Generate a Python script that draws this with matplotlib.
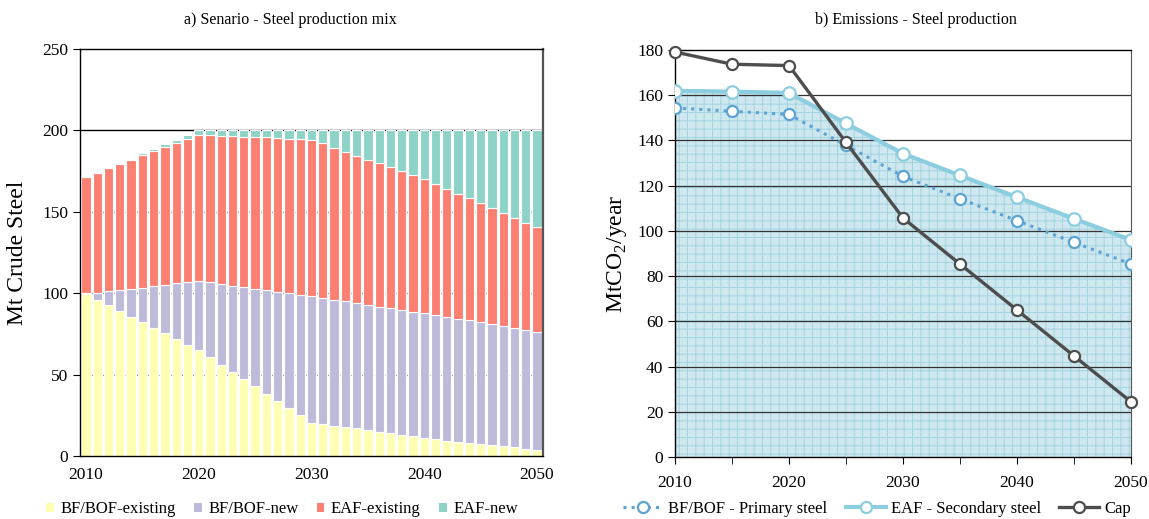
import matplotlib.pyplot as plt
import numpy as np
from matplotlib.lines import Line2D
from matplotlib.patches import Patch

plt.rcParams['font.family'] = ['Liberation Serif', 'DejaVu Serif']
plt.rcParams['mathtext.fontset'] = 'custom'
plt.rcParams['mathtext.rm'] = 'Liberation Serif'
plt.rcParams['hatch.linewidth'] = 0.7

# a) steel production mix, Mt crude steel
years = np.arange(2010, 2051)
bof_existing = [99.5, 95.8, 92.5, 88.8, 85.6, 82.1, 78.6, 75.3, 71.9, 68.4,
                64.9, 60.6, 56.1, 51.4, 47.3, 42.8, 38.1, 33.8, 29.5, 25.0,
                20.2, 19.5, 18.6, 18.0, 16.9, 15.8, 14.9, 14.1, 13.1, 12.1,
                11.3, 10.2, 9.4, 8.6, 8.0, 7.4, 6.8, 5.9, 5.3, 4.5, 3.7]
bof_new = [0.5, 4.5, 8.6, 12.9, 17.0, 21.3, 25.6, 29.9, 34.1, 38.3,
           42.4, 46.1, 49.7, 53.2, 56.3, 60.0, 63.6, 67.1, 70.4, 74.1,
           78.0, 77.4, 77.3, 77.1, 77.1, 76.7, 76.8, 76.6, 76.6, 76.5,
           76.5, 76.2, 76.0, 75.7, 75.3, 74.7, 74.1, 73.7, 73.1, 72.9, 72.5]
eaf_existing = [71.5, 73.7, 75.6, 77.6, 79.2, 81.2, 82.9, 84.4, 86.0, 88.0,
                89.8, 90.2, 90.9, 91.7, 92.5, 93.1, 94.0, 94.2, 94.8, 95.4,
                96.2, 95.1, 93.5, 91.8, 90.5, 89.5, 88.0, 86.6, 85.1, 83.8,
                82.1, 80.6, 78.6, 76.8, 74.9, 73.1, 71.4, 69.8, 68.0, 65.9, 64.2]
eaf_new = [0.0, 0.0, 0.0, 0.0, 0.8, 1.3, 1.4, 1.8, 2.0, 2.2,
           2.9, 3.1, 3.3, 3.7, 3.9, 4.1, 4.3, 4.9, 5.3, 5.5,
           5.6, 8.0, 10.6, 13.1, 15.5, 18.0, 20.3, 22.7, 25.2, 27.6,
           30.1, 33.0, 36.0, 38.9, 41.8, 44.8, 47.7, 50.6, 53.6, 56.7, 59.6]
mix_labels = ['BF/BOF-existing', 'BF/BOF-new', 'EAF-existing', 'EAF-new']
mix_colors = ['#ffffb3', '#bebada', '#fb8072', '#8dd3c7']

# b) emissions, MtCO2/year
em_years = [2010, 2015, 2020, 2025, 2030, 2035, 2040, 2045, 2050]
primary = [154.4, 152.9, 151.5, 137.8, 124.1, 114.2, 104.5, 94.9, 85.4]
secondary = [161.9, 161.6, 161.0, 147.5, 134.2, 124.5, 114.9, 105.4, 96.0]
cap = [179.1, 173.7, 173.1, 139.1, 105.7, 85.3, 65.0, 44.7, 24.4]

fig = plt.figure(figsize=(11.49, 5.19), dpi=100)
ax1 = fig.add_axes([0.0696, 0.1214, 0.4030, 0.7842])
ax2 = fig.add_axes([0.5875, 0.1195, 0.3968, 0.7842])

# ---- left chart
bottom = np.zeros(len(years))
for vals, col in zip([bof_existing, bof_new, eaf_existing, eaf_new], mix_colors):
    ax1.bar(years, vals, width=0.82, bottom=bottom, color=col,
            edgecolor='white', linewidth=0.8, zorder=2)
    bottom += np.array(vals)

for y in [50, 100, 150]:
    ax1.axhline(y, color='#8c8c8c', lw=0.9, ls=(0, (1, 2)), zorder=1)
ax1.axhline(200, color='black', lw=1.0, zorder=1)

ax1.set_xlim(2009.47, 2050.53)
ax1.set_ylim(0, 250)
ax1.set_yticks(np.arange(0, 251, 50))
ax1.set_xticks([2010, 2020, 2030, 2040, 2050])
ax1.tick_params(axis='x', length=0, labelsize=12.5, pad=8)
ax1.tick_params(axis='y', direction='out', length=5, labelsize=12.5)
ax1.set_ylabel('Mt Crude Steel', fontsize=17, labelpad=10)
ax1.spines['right'].set_color('#555555')
ax1.spines['right'].set_linewidth(1.6)
for s in ['left', 'bottom', 'top']:
    ax1.spines[s].set_linewidth(1.0)

fig.text(290 / 1149, 1 - 20 / 519, 'a) Senario - Steel production mix',
         ha='center', va='center', fontsize=11.5)

handles = [Patch(facecolor=c, edgecolor='none') for c in mix_colors]
fig.legend(handles, mix_labels, loc='center', bbox_to_anchor=(282 / 1149, 1 - 509 / 519),
           ncol=4, frameon=False, fontsize=12, handlelength=0.45, handleheight=0.45,
           handletextpad=0.4, columnspacing=1.1)

# ---- right chart
ax2.fill_between(em_years, 0, secondary, facecolor='#cfe7ee', edgecolor='#a2d4e2',
                 hatch='++', linewidth=0, zorder=1)
for y in range(20, 180, 20):
    ax2.axhline(y, color='#333333', lw=0.9, zorder=2)

ax2.plot(em_years, primary, ls=':', lw=2.2, color='#5ba3d3', marker='o', ms=8,
         mfc='white', mec='#5ba3d3', mew=1.6, zorder=3)
ax2.plot(em_years, secondary, ls='-', lw=3, color='#8ccde0', marker='o', ms=9,
         mfc='white', mec='#8ccde0', mew=1.6, zorder=4)
ax2.plot(em_years, cap, ls='-', lw=2.4, color='#4d4d4d', marker='o', ms=8,
         mfc='white', mec='#4d4d4d', mew=1.6, zorder=5, clip_on=False)

ax2.set_xlim(2010, 2050)
ax2.set_ylim(0, 180)
ax2.set_yticks(np.arange(0, 181, 20))
ax2.set_xticks([2010, 2020, 2030, 2040, 2050])
ax2.set_xticks([2015, 2025, 2035, 2045], minor=True)
ax2.tick_params(axis='both', which='both', direction='out', length=5, labelsize=12.5)
ax2.tick_params(axis='x', pad=8)
ax2.set_ylabel('MtCO$_2$/year', fontsize=17, labelpad=6)
ax2.spines['right'].set_color('#555555')
for s in ['left', 'bottom', 'top']:
    ax2.spines[s].set_linewidth(1.0)

fig.text(916 / 1149, 1 - 20 / 519, 'b) Emissions - Steel production',
         ha='center', va='center', fontsize=11.5)

lh = [Line2D([], [], ls=':', lw=2.2, color='#5ba3d3', marker='o', ms=8, mfc='white', mec='#5ba3d3', mew=1.6),
      Line2D([], [], ls='-', lw=3, color='#8ccde0', marker='o', ms=8, mfc='white', mec='#8ccde0', mew=1.6),
      Line2D([], [], ls='-', lw=2.4, color='#4d4d4d', marker='o', ms=8, mfc='white', mec='#4d4d4d', mew=1.6)]
fig.legend(lh, ['BF/BOF - Primary steel', 'EAF - Secondary steel', 'Cap'], loc='center',
           bbox_to_anchor=(877 / 1149, 1 - 509 / 519), ncol=3, frameon=False, fontsize=12,
           handlelength=2.4, handletextpad=0.3, columnspacing=1.1)

fig.savefig('out.png', dpi=100)
